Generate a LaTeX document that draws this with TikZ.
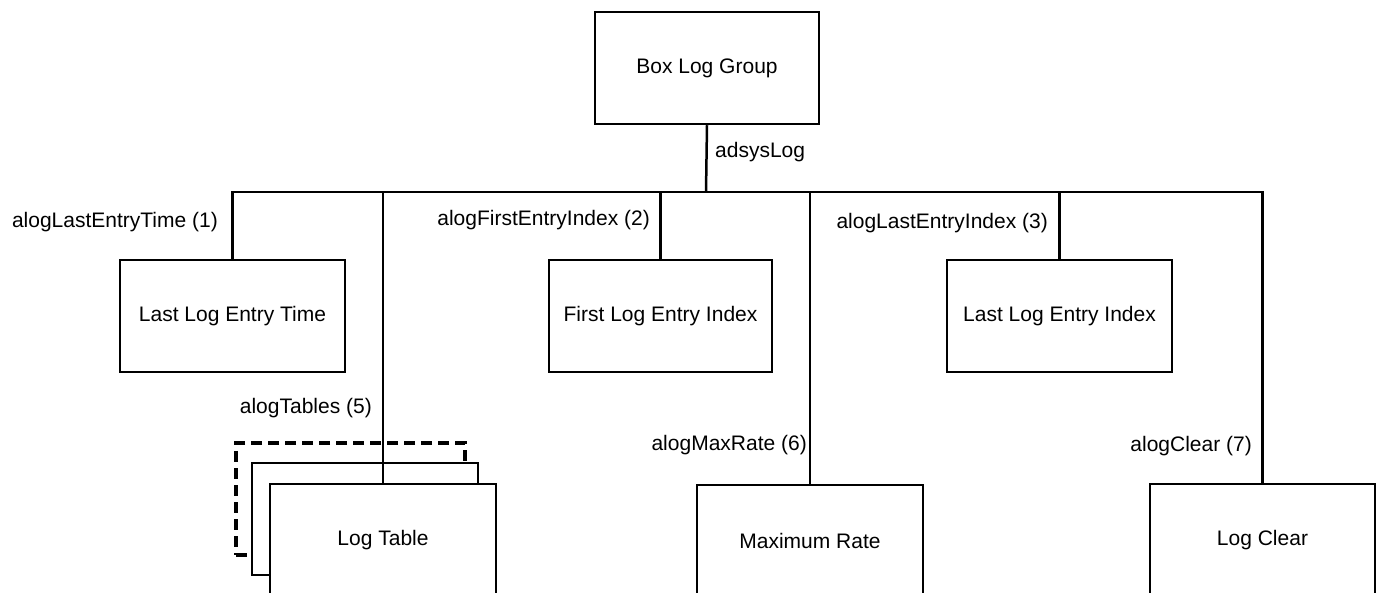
\documentclass[tikz,border=0pt]{standalone}
\usepackage{fontspec}
\setmainfont{Liberation Sans}
\begin{document}
\begin{tikzpicture}[x=1pt,y=-1pt,
  box/.style={draw,line width=2.5pt,fill=white,minimum width=225pt,minimum height=112pt,inner sep=0pt,font=\fontsize{21}{25}\selectfont},
  lbl/.style={anchor=east,inner sep=0pt,font=\fontsize{21}{25}\selectfont},
  conn/.style={line width=2.5pt},
  dashbox/.style={draw,line width=4.5pt,dash pattern=on 11pt off 6pt,fill=white,minimum width=229pt,minimum height=112pt,inner sep=0pt}]
\useasboundingbox (0,0) rectangle (1382,593);
\clip (0,0) rectangle (1382,593);
% root
\node[box,minimum width=224pt] (root) at (707,68) {Box Log Group};
\coordinate (bus) at (706,192);
\node[lbl,anchor=west] (lroot) at (715,152) {adsysLog};
% level boxes
\node[box] (t1) at (232.5,316) {Last Log Entry Time};
\node[box,minimum width=223pt] (t2) at (660.5,316) {First Log Entry Index};
\node[box] (t3) at (1059.5,316) {Last Log Entry Index};
% log table stack
\node[dashbox] (t5c) at (350.5,499) {};
\node[box,minimum width=226pt] (t5b) at (365,519) {};
\node[box,minimum width=226pt] (t5) at (383,540) {Log Table};
\node[box,minimum width=226pt] (t6) at (810,541) {Maximum Rate};
\node[box] (t7) at (1262.5,540) {Log Clear};
% connectors
\draw[conn] (root.south) -- (bus);
\draw[conn] (bus) -| (t1.north);
\draw[conn] (bus) -| (t2.north);
\draw[conn] (bus) -| (t3.north);
\draw[conn] (bus) -| (t5.north);
\draw[conn] (bus) -| (t6.north);
\draw[conn] (bus) -| (t7.north);
% labels
\node[lbl] (l1) at (218,222) {alogLastEntryTime (1)};
\node[lbl] (l2) at (650,220) {alogFirstEntryIndex (2)};
\node[lbl] (l3) at (1048,223) {alogLastEntryIndex (3)};
\node[lbl] (l5) at (372,408) {alogTables (5)};
\node[lbl] (l6) at (807,445) {alogMaxRate (6)};
\node[lbl] (l7) at (1252,446) {alogClear (7)};
\end{tikzpicture}
\end{document}
